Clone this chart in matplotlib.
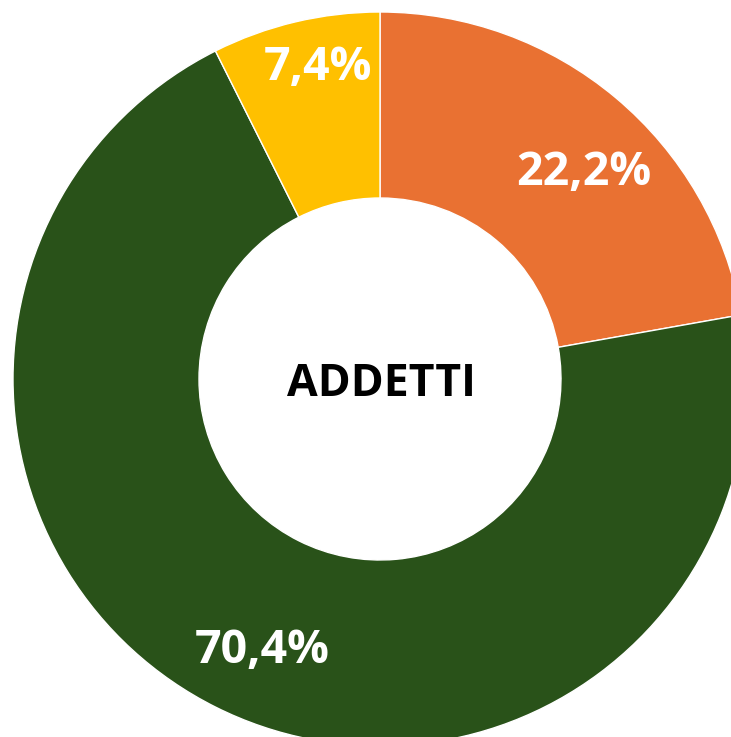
import numpy as np
import matplotlib.pyplot as plt

# dati
categorie = ["Arancione", "Verde", "Giallo"]
valori = [22.2, 70.4, 7.4]
etichette = ["22,2%", "70,4%", "7,4%"]
colori = ["#E97132", "#295219", "#FFC000"]

W, H = 731, 737
fig = plt.figure(figsize=(W / 100, H / 100), dpi=100)
ax = fig.add_axes([0, 0, 1, 1])

cx, cy = 380, H - 379
r_out, r_in = 367, 181

wedges, _ = ax.pie(
    valori,
    colors=colori,
    startangle=90,
    counterclock=False,
    center=(cx, cy),
    radius=r_out,
    wedgeprops=dict(width=r_out - r_in, edgecolor="white", linewidth=1),
    frame=True,
)
ax.set_xlim(0, W)
ax.set_ylim(0, H)
ax.set_aspect("equal")
ax.axis("off")

# posizione etichette
dist = [0.80, 0.793, 0.88]
spost = [-3.9, 2.7, -2.3]
for w, lab, d, s in zip(wedges, etichette, dist, spost):
    ang = np.deg2rad((w.theta1 + w.theta2) / 2 + s)
    x = cx + d * r_out * np.cos(ang)
    y = cy + d * r_out * np.sin(ang)
    ax.text(x, y, lab, ha="center", va="center_baseline", color="white",
            fontsize=33.5, fontweight="bold", family="Open Sans")

ax.text(cx + 1, cy, "ADDETTI", ha="center", va="center_baseline", color="black",
        fontsize=32, fontweight="bold", family="Open Sans")

fig.savefig("out.png", dpi=100)
